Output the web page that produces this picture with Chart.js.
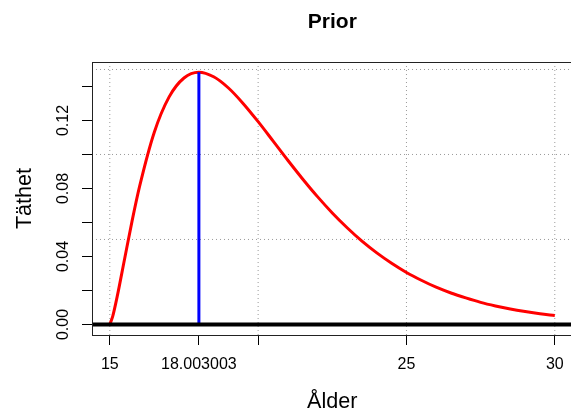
<!DOCTYPE html>
<html lang="sv">

<head>
    <meta charset="UTF-8">
    <title>Prior</title>
    <script src="https://cdn.jsdelivr.net/npm/chart.js"></script>
    <style>
        body { margin: 0; background: #fff; overflow: hidden; }
        #wrap { width: 580px; height: 409px; }
    </style>
</head>

<body>
    <div id="wrap"><canvas id="myChart"></canvas></div>

    <script>
        // data
        const ages = [15, 15.1, 15.25, 15.5, 15.75, 16, 16.5, 17, 17.5, 18, 18.5, 19, 19.5, 20,
            20.5, 21, 21.5, 22, 22.5, 23, 23.5, 24, 24.5, 25, 25.5, 26, 26.5, 27, 27.5, 28,
            28.5, 29, 29.5, 30];
        const density = [0, 0.0049, 0.0165, 0.0387, 0.0608, 0.0809, 0.1131, 0.1339, 0.1450, 0.1484,
            0.1457, 0.1391, 0.1299, 0.1193, 0.1080, 0.0966, 0.0856, 0.0752, 0.0656, 0.0569,
            0.0490, 0.0421, 0.0360, 0.0306, 0.0260, 0.0219, 0.0185, 0.0156, 0.0130, 0.0109,
            0.0091, 0.0076, 0.0063, 0.0053];
        const modeAge = 18.003003;
        const modeDensity = 0.1484;

        const xTicks = [15, 18.003003, 20, 25, 30];
        const xTickLabels = ['15', '18.003003', '', '25', '30'];
        const yTicks = [0, 0.02, 0.04, 0.06, 0.08, 0.10, 0.12, 0.14];
        const yTickLabels = ['0.00', '', '0.04', '', '0.08', '', '0.12', ''];
        const gridX = [15, 20, 25, 30];
        const gridY = [0, 0.05, 0.10, 0.15];

        const FONT = '"Liberation Sans", Arial, Helvetica, sans-serif';

        // dotted grid + plot box, like R's grid() and box()
        const rFrame = {
            id: 'rFrame',
            beforeDatasetsDraw(chart) {
                const { ctx, chartArea: a, scales: { x, y } } = chart;
                ctx.save();
                ctx.beginPath();
                ctx.rect(a.left, a.top, a.right - a.left, a.bottom - a.top);
                ctx.clip();
                ctx.strokeStyle = '#9a9a9a';
                ctx.lineWidth = 1;
                ctx.setLineDash([1, 3]);
                gridX.forEach(v => {
                    const px = x.getPixelForValue(v);
                    ctx.beginPath();
                    ctx.moveTo(px, a.top);
                    ctx.lineTo(px, a.bottom);
                    ctx.stroke();
                });
                gridY.forEach(v => {
                    const py = y.getPixelForValue(v);
                    ctx.beginPath();
                    ctx.moveTo(a.left, py);
                    ctx.lineTo(a.right, py);
                    ctx.stroke();
                });
                ctx.restore();
            },
            afterDraw(chart) {
                const { ctx, chartArea: a } = chart;
                ctx.save();
                ctx.strokeStyle = '#222';
                ctx.lineWidth = 1;
                ctx.strokeRect(Math.round(a.left) + 0.5, Math.round(a.top) + 0.5,
                    a.right - a.left, Math.round(a.bottom - a.top));
                ctx.restore();
            }
        };

        const ctx = document.getElementById('myChart').getContext('2d');
        new Chart(ctx, {
            type: 'line',
            data: {
                datasets: [{
                    // abline(h = 0)
                    data: [{ x: 14.4, y: 0 }, { x: 30.6, y: 0 }],
                    borderColor: '#000',
                    borderWidth: 4,
                    pointRadius: 0
                }, {
                    data: [{ x: modeAge, y: 0 }, { x: modeAge, y: modeDensity }],
                    borderColor: '#0000ff',
                    borderWidth: 3,
                    pointRadius: 0
                }, {
                    data: ages.map((a, i) => ({ x: a, y: density[i] })),
                    borderColor: '#ff0000',
                    borderWidth: 3,
                    pointRadius: 0,
                    cubicInterpolationMode: 'monotone'
                }]
            },
            options: {
                responsive: true,
                maintainAspectRatio: false,
                animation: false,
                layout: { padding: { left: 0, right: 7.4, top: 0, bottom: 0 } },
                plugins: {
                    legend: { display: false },
                    tooltip: { enabled: false },
                    title: {
                        display: true,
                        text: 'Prior',
                        fullSize: false,
                        color: '#000',
                        font: { family: FONT, size: 21, weight: 'bold', lineHeight: 1.2 },
                        padding: { top: 10, bottom: 26.8 }
                    }
                },
                scales: {
                    x: {
                        type: 'linear',
                        min: 14.4,
                        max: 30.6,
                        afterBuildTicks: s => { s.ticks = xTicks.map(v => ({ value: v })); },
                        afterFit: s => { s.height = 74; },
                        border: { display: false },
                        grid: {
                            drawOnChartArea: false,
                            drawTicks: true,
                            tickLength: 10,
                            color: '#000'
                        },
                        ticks: {
                            autoSkip: false,
                            minRotation: 0,
                            maxRotation: 0,
                            padding: 10,
                            color: '#000',
                            font: { family: FONT, size: 16 },
                            callback: (v, i) => xTickLabels[i]
                        },
                        title: {
                            display: true,
                            text: 'Ålder',
                            color: '#000',
                            font: { family: FONT, size: 21.6, lineHeight: 0.5 },
                            padding: { top: 0, bottom: 2 }
                        }
                    },
                    y: {
                        min: -0.0062,
                        max: 0.1544,
                        afterBuildTicks: s => { s.ticks = yTicks.map(v => ({ value: v })); },
                        afterFit: s => { s.width = 92; },
                        border: { display: false },
                        grid: {
                            drawOnChartArea: false,
                            drawTicks: true,
                            tickLength: 10,
                            color: '#000'
                        },
                        ticks: {
                            autoSkip: false,
                            minRotation: 90,
                            maxRotation: 90,
                            crossAlign: 'center',
                            padding: 3,
                            color: '#000',
                            font: { family: FONT, size: 16 },
                            callback: (v, i) => yTickLabels[i]
                        },
                        title: {
                            display: true,
                            text: 'Täthet',
                            color: '#000',
                            font: { family: FONT, size: 21.6, lineHeight: 1.2 },
                            padding: { top: 12, bottom: 0 }
                        }
                    }
                }
            },
            plugins: [rFrame]
        });
    </script>
</body>

</html>
